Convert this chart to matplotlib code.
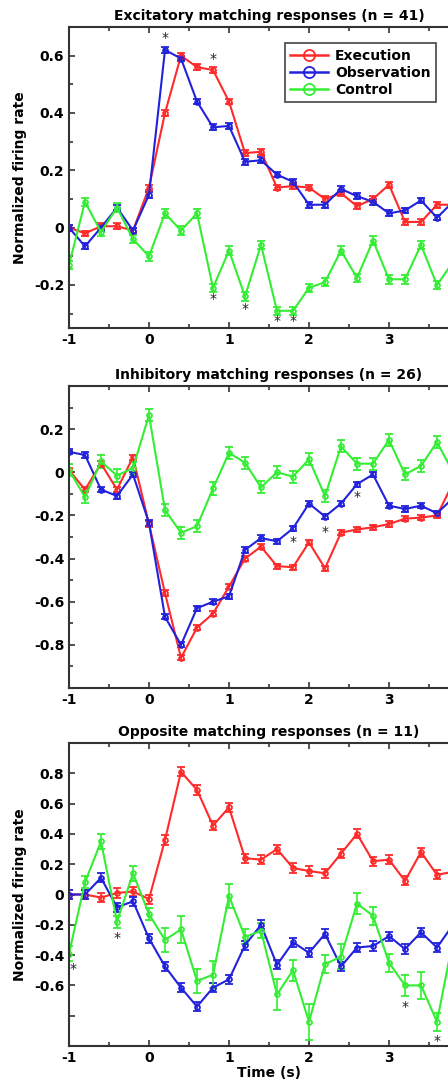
import matplotlib
matplotlib.use("Agg")
import matplotlib.pyplot as plt
from matplotlib.lines import Line2D
from matplotlib.ticker import MultipleLocator, FuncFormatter

plt.rcParams['font.family'] = ['DejaVu Sans']
plt.rcParams['font.weight'] = 'bold'
plt.rcParams['font.size'] = 10

# time bins (s)
time = [-1.0, -0.8, -0.6, -0.4, -0.2, 0.0, 0.2, 0.4, 0.6, 0.8, 1.0, 1.2, 1.4,
        1.6, 1.8, 2.0, 2.2, 2.4, 2.6, 2.8, 3.0, 3.2, 3.4, 3.6, 3.8]

series_names = ["Execution", "Observation", "Control"]
titles = ["Excitatory matching responses (n = 41)",
          "Inhibitory matching responses (n = 26)",
          "Opposite matching responses (n = 11)"]

# panel 1: excitatory
exc_exe = [0.0, -0.02, 0.005, 0.005, -0.01, 0.14, 0.40, 0.60, 0.56, 0.55, 0.44, 0.26, 0.265,
           0.14, 0.145, 0.14, 0.10, 0.12, 0.075, 0.10, 0.15, 0.02, 0.02, 0.08, 0.08]
exc_obs = [0.0, -0.065, 0.0, 0.07, -0.01, 0.115, 0.62, 0.59, 0.44, 0.35, 0.355, 0.23, 0.235,
           0.185, 0.16, 0.08, 0.08, 0.135, 0.11, 0.09, 0.05, 0.06, 0.095, 0.035, 0.09]
exc_ctl = [-0.13, 0.09, -0.015, 0.07, -0.04, -0.10, 0.05, -0.01, 0.05, -0.21, -0.08, -0.24, -0.06,
           -0.29, -0.29, -0.21, -0.19, -0.08, -0.175, -0.045, -0.18, -0.18, -0.06, -0.20, -0.12]
exc_err = [0.01, 0.01, 0.015]
exc_stars = [(0.2, 0.66), (0.8, 0.59), (0.8, -0.25), (1.2, -0.285), (1.6, -0.325), (1.8, -0.325)]

# panel 2: inhibitory
inh_exe = [0.01, -0.08, 0.04, -0.08, 0.07, -0.24, -0.56, -0.86, -0.72, -0.655, -0.53, -0.40, -0.345,
           -0.435, -0.44, -0.325, -0.445, -0.28, -0.265, -0.255, -0.24, -0.215, -0.21, -0.20, -0.05]
inh_obs = [0.095, 0.08, -0.08, -0.11, -0.01, -0.235, -0.67, -0.80, -0.63, -0.60, -0.575, -0.36, -0.305,
           -0.32, -0.26, -0.145, -0.205, -0.145, -0.055, -0.01, -0.155, -0.17, -0.155, -0.19, -0.12]
inh_ctl = [0.01, -0.115, 0.05, -0.015, 0.02, 0.265, -0.175, -0.28, -0.25, -0.075, 0.09, 0.045, -0.07,
           0.0, -0.02, 0.06, -0.11, 0.12, 0.04, 0.04, 0.15, -0.01, 0.03, 0.14, 0.0]
inh_err = [0.012, 0.012, 0.028]
inh_stars = [(1.8, -0.325), (2.2, -0.275), (2.6, -0.115)]

# panel 3: opposite
opp_exe = [0.0, 0.0, -0.02, 0.01, 0.02, -0.03, 0.36, 0.81, 0.69, 0.455, 0.575, 0.24, 0.23,
           0.30, 0.175, 0.155, 0.14, 0.27, 0.40, 0.22, 0.23, 0.09, 0.28, 0.13, 0.15]
opp_obs = [0.0, 0.0, 0.11, -0.085, -0.045, -0.29, -0.475, -0.615, -0.74, -0.615, -0.56, -0.335, -0.20,
           -0.465, -0.315, -0.385, -0.26, -0.475, -0.35, -0.34, -0.275, -0.36, -0.25, -0.35, -0.2]
opp_ctl = [-0.39, 0.08, 0.35, -0.18, 0.14, -0.13, -0.30, -0.23, -0.57, -0.53, -0.01, -0.28, -0.24,
           -0.66, -0.50, -0.84, -0.46, -0.41, -0.06, -0.14, -0.45, -0.60, -0.60, -0.84, -0.3]
opp_err = [0.03, 0.03, [0.05, 0.04, 0.05, 0.04, 0.05, 0.04, 0.08, 0.09, 0.08, 0.09, 0.08, 0.05, 0.05,
                        0.10, 0.07, 0.12, 0.06, 0.08, 0.07, 0.06, 0.06, 0.07, 0.09, 0.06, 0.06]]
opp_stars = [(-0.95, -0.49), (-0.4, -0.29), (3.2, -0.745), (3.6, -0.965)]

colors = ['#ff2a2a', '#2222dd', '#33ee33']

panels = [
    ([exc_exe, exc_obs, exc_ctl], exc_err, exc_stars, (-0.35, 0.7), [-0.2, 0, 0.2, 0.4, 0.6], True),
    ([inh_exe, inh_obs, inh_ctl], inh_err, inh_stars, (-1.0, 0.4), [-0.8, -0.6, -0.4, -0.2, 0, 0.2], True),
    ([opp_exe, opp_obs, opp_ctl], opp_err, opp_stars, (-1.0, 1.0), [-0.8, -0.6, -0.4, -0.2, 0, 0.2, 0.4, 0.6, 0.8], False),
]

W, H = 448, 1081
fig = plt.figure(figsize=(W / 100, H / 100), dpi=100)

boxes = [(27, 328), (386, 688), (743, 1046)]
left_px, right_px = 69, 469


def fmt(v, pos):
    if abs(v) < 1e-9:
        return '0'
    return f'{v:g}'


axes = []
for i, (data, errs, stars, ylim, yticks, minor) in enumerate(panels):
    top, bot = boxes[i]
    ax = fig.add_axes([left_px / W, 1 - bot / H, (right_px - left_px) / W, (bot - top) / H])
    axes.append(ax)
    for vals, err, col in zip(data, errs, colors):
        ax.errorbar(time, vals, yerr=err, color=col, lw=1.5, marker='o', ms=3.5,
                    mfc='none', mew=1.3, capsize=2.8, capthick=1.2, elinewidth=1.2)
    for sx, sy in stars:
        ax.text(sx, sy, '*', ha='center', va='center', fontsize=10, fontweight='normal', color='#222222')
    ax.set_xlim(-1, 4)
    ax.set_ylim(*ylim)
    ax.set_xticks([-1, 0, 1, 2, 3])
    ax.xaxis.set_minor_locator(MultipleLocator(0.5))
    ax.set_yticks(yticks)
    if minor:
        ax.yaxis.set_minor_locator(MultipleLocator(0.1))
    ax.yaxis.set_major_formatter(FuncFormatter(fmt))
    ax.xaxis.set_major_formatter(FuncFormatter(fmt))
    ax.tick_params(which='both', direction='in', top=True, right=True, width=1.2,
                   colors='#333333', labelcolor='black')
    ax.tick_params(which='major', length=4)
    ax.tick_params(which='minor', length=3)
    for s in ax.spines.values():
        s.set_linewidth(1.5)
        s.set_color('#333333')
    ax.set_title(titles[i], fontsize=10, fontweight='bold', pad=5)

# the -0.8 tick of the last panel has no label
labels3 = [fmt(v, None) for v in panels[2][4]]
labels3[0] = ''
axes[2].set_yticklabels(labels3)

for ax in (axes[0], axes[2]):
    ax.set_ylabel('Normalized firing rate', fontweight='bold')
    ax.yaxis.set_label_coords(-0.105, 0.5)
axes[2].set_xlabel('Time (s)', fontweight='bold', labelpad=1)

handles = [Line2D([], [], color=c, lw=1.8, marker='o', ms=8, mfc='none', mew=1.3) for c in colors]
leg = axes[0].legend(handles, series_names, loc='upper right', bbox_to_anchor=(436 / W, 1 - 43 / H),
                     bbox_transform=fig.transFigure, borderaxespad=0, fancybox=False,
                     framealpha=1, edgecolor='#444444', handlelength=2.7, handletextpad=0.5,
                     labelspacing=0.22, borderpad=0.4)
leg.get_frame().set_linewidth(1.2)

fig.savefig('out.png', dpi=100)
